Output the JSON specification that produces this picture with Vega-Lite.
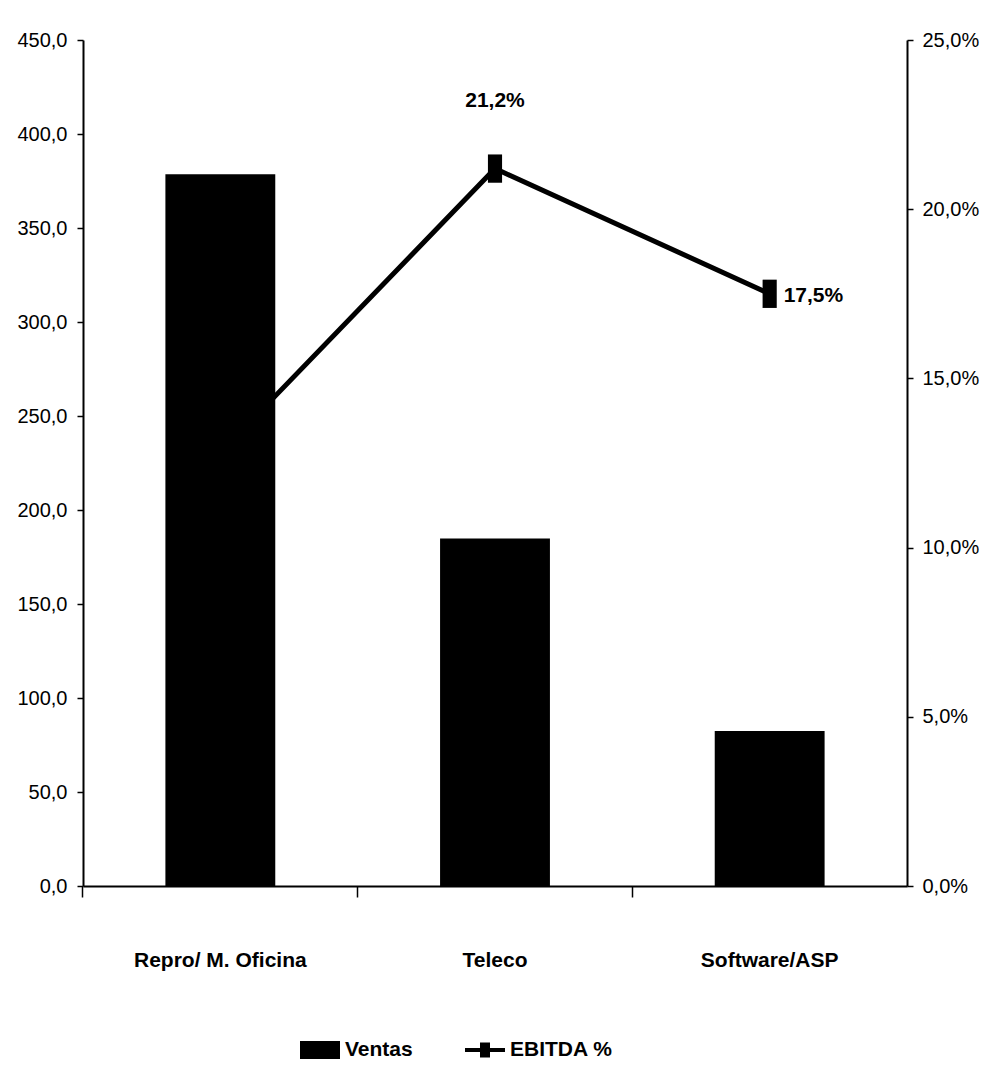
{
  "$schema": "https://vega.github.io/schema/vega-lite/v6.json",
  "autosize": {"type": "none"},
  "padding": {"left": 83, "top": 40, "right": 75, "bottom": 185},
  "width": 824,
  "height": 846,
  "background": "white",
  "config": {
    "locale": {"number": {"decimal": ",", "thousands": ".", "grouping": [3], "currency": ["", " €"]}},
    "font": "Liberation Sans, Arial, sans-serif",
    "view": {"stroke": null},
    "axis": {"grid": false, "domainColor": "black", "tickColor": "black", "labelColor": "black", "domainWidth": 1.5, "tickWidth": 1.5, "labelFont": "Liberation Sans, Arial, sans-serif"}
  },
  "data": {
    "values": [
      {"cat": "Repro/ M. Oficina", "ventas": 378.6, "ebitda": 0.128},
      {"cat": "Teleco", "ventas": 184.8, "ebitda": 0.212},
      {"cat": "Software/ASP", "ventas": 82.5, "ebitda": 0.175}
    ]
  },
  "encoding": {
    "x": {"field": "cat", "type": "nominal", "sort": null, "scale": {"paddingInner": 0.6, "paddingOuter": 0.3}, "axis": {"orient": "bottom", "labelAngle": 0, "ticks": true, "tickSize": 11, "bandPosition": -0.75, "labelLimit": 0, "labelPadding": 52, "labelFontSize": 21, "labelFontWeight": "bold", "title": null, "domainWidth": 2}}
  },
  "layer": [
    {
      "layer": [
        {
          "mark": {"type": "line", "strokeWidth": 5, "color": "black"},
          "encoding": {
            "y": {"field": "ebitda", "type": "quantitative", "scale": {"domain": [0, 0.25]}, "axis": {"orient": "right", "values": [0, 0.05, 0.1, 0.15, 0.2, 0.25], "format": ".1%", "title": null, "tickSize": 6, "labelFontSize": 20, "labelPadding": 9, "domainWidth": 2}},
            "color": {"datum": "EBITDA %", "type": "nominal", "scale": {"domain": ["Ventas", "EBITDA %"], "range": ["black", "black"]},
              "legend": {"orient": "none", "legendX": 217, "legendY": 990, "direction": "horizontal", "title": null, "labelFont": "Liberation Sans, Arial, sans-serif", "labelFontSize": 21, "labelFontWeight": "bold", "labelColor": "black", "labelOffset": 5, "columnPadding": 52, "symbolSize": 1600, "symbolFillColor": "black", "symbolStrokeWidth": 0,
                "encode": {"symbols": {"update": {"shape": {"signal": "datum.value == 'Ventas' ? 'M-1,-0.45H1V0.45H-1Z' : 'M-1,-0.1H-0.25V-0.38H0.25V-0.1H1V0.1H0.25V0.38H-0.25V0.1H-1Z'"}, "fill": {"value": "black"}, "strokeWidth": {"value": 0}}}}}
            }
          }
        },
        {
          "mark": {"type": "point", "filled": true, "opacity": 1, "color": "black", "shape": "M-0.5,-1H0.5V1H-0.5Z", "size": 800},
          "encoding": {
            "y": {"field": "ebitda", "type": "quantitative", "scale": {"domain": [0, 0.25]}}
          }
        },
        {
          "transform": [{"filter": "datum.cat == 'Teleco'"}],
          "mark": {"type": "text", "dy": -68, "fontSize": 21, "fontWeight": "bold", "color": "black"},
          "encoding": {
            "y": {"field": "ebitda", "type": "quantitative", "scale": {"domain": [0, 0.25]}},
            "text": {"field": "ebitda", "type": "quantitative", "format": ".1%"}
          }
        },
        {
          "transform": [{"filter": "datum.cat == 'Software/ASP'"}],
          "mark": {"type": "text", "dx": 14, "dy": 2, "align": "left", "fontSize": 21, "fontWeight": "bold", "color": "black"},
          "encoding": {
            "y": {"field": "ebitda", "type": "quantitative", "scale": {"domain": [0, 0.25]}},
            "text": {"field": "ebitda", "type": "quantitative", "format": ".1%"}
          }
        }
      ]
    },
    {
      "mark": {"type": "bar", "color": "black"},
      "encoding": {
        "y": {"field": "ventas", "type": "quantitative", "scale": {"domain": [0, 450]}, "axis": {"orient": "left", "values": [0, 50, 100, 150, 200, 250, 300, 350, 400, 450], "format": ".1f", "title": null, "tickSize": 6, "labelFontSize": 20, "labelPadding": 10, "domainWidth": 2}},
        "color": {"datum": "Ventas", "type": "nominal"}
      }
    }
  ],
  "resolve": {"scale": {"y": "independent"}, "axis": {"y": "independent"}}
}
